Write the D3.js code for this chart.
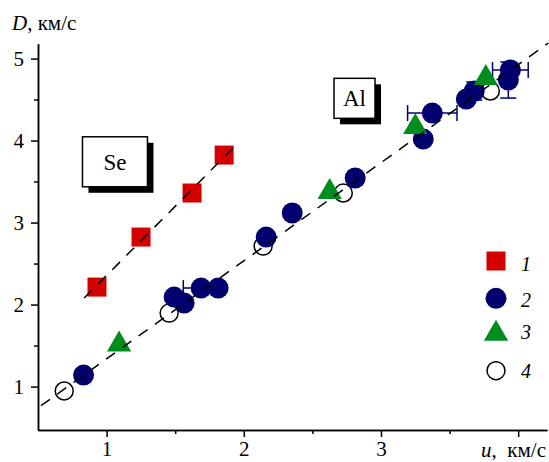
<!DOCTYPE html>
<html>
<head>
<meta charset="utf-8">
<script src="https://cdn.jsdelivr.net/npm/d3@7/dist/d3.min.js"></script>
<style>
  body { margin: 0; background: #fff; }
  svg { display: block; font-family: "Liberation Serif", "DejaVu Serif", serif; }
  .axis path, .axis line { stroke: #000; stroke-width: 1.5; }
</style>
</head>
<body>
<svg width="549" height="462"></svg>
<script>
// series 1 - Se (red squares): [u, D]
var seData = [[0.930, 2.213], [1.251, 2.823], [1.623, 3.360], [1.857, 3.823]];
// series 2 - Al (navy circles): [u, D, errU, errD]
var alCircles = [
    [0.832, 1.140, 0, 0], [1.492, 2.091, 0, 0], [1.565, 2.018, 0, 0],
    [1.689, 2.201, 0.13, 0], [1.813, 2.201, 0, 0], [2.163, 2.823, 0, 0],
    [2.353, 3.116, 0, 0], [2.812, 3.543, 0, 0], [3.308, 4.018, 0, 0],
    [3.374, 4.335, 0.18, 0], [3.622, 4.506, 0, 0], [3.680, 4.604, 0, 0.11],
    [3.928, 4.738, 0, 0.22], [3.943, 4.860, 0.13, 0]
];
// series 3 (green triangles)
var alTriangles = [[1.091, 1.512], [2.626, 3.372], [3.250, 4.165], [3.764, 4.762]];
// series 4 (open circles)
var alOpen = [[0.691, 0.946], [1.456, 1.896], [2.141, 2.713], [2.725, 3.360], [3.797, 4.604]];
// dashed fit lines, end points
var seFit = [[0.836, 2.079], [1.922, 3.909]];
var alFit = [[0.522, 0.766], [4.22, 5.189]];

var xMajor = [1, 2, 3, 4];
var xMinor = [1.5, 2.5, 3.5];
var yMajor = [1, 2, 3, 4, 5];
var yMinor = [1.5, 2.5, 3.5, 4.5];
var legendLabels = ['1', '2', '3', '4'];
// material labels: [text, u, D, box w, box h]
var boxLabels = [['Se', 1.061, 3.741, 65, 50], ['Al', 2.807, 4.515, 41, 40]];

var svg = d3.select('svg');
var xScale = d3.scaleLinear().domain([0.5, 4.21]).range([38, 547]);
var yScale = d3.scaleLinear().domain([0.47, 5.18]).range([430, 43.8]);

var red = '#d40000', navy = '#00006e', green = '#008c1e';
var serif = '"Liberation Serif", "DejaVu Serif", serif';

function styleTicks(g) {
    g.selectAll('text').style('font-family', serif).style('font-size', '21px').attr('fill', '#000');
}

// axes
svg.append('g').attr('class', 'axis')
    .attr('transform', 'translate(0,' + yScale.range()[0] + ')')
    .call(d3.axisBottom(xScale).tickValues(xMajor).tickSize(7).tickSizeOuter(0).tickPadding(4)
        .tickFormat(function(d) { return d === 4 ? '' : d; }))
    .call(styleTicks);
svg.append('g').attr('class', 'axis')
    .attr('transform', 'translate(0,' + yScale.range()[0] + ')')
    .call(d3.axisBottom(xScale).tickValues(xMinor).tickSize(4).tickSizeOuter(0).tickFormat(''));
svg.append('g').attr('class', 'axis')
    .attr('transform', 'translate(' + xScale.range()[0] + ',0)')
    .call(d3.axisLeft(yScale).tickValues(yMajor).tickSize(7).tickSizeOuter(0).tickPadding(7)
        .tickFormat(d3.format('d')))
    .call(styleTicks);
svg.append('g').attr('class', 'axis')
    .attr('transform', 'translate(' + xScale.range()[0] + ',0)')
    .call(d3.axisLeft(yScale).tickValues(yMinor).tickSize(4).tickSizeOuter(0).tickFormat(''));

// axis titles
var yt = svg.append('text').attr('x', 12).attr('y', 30).style('font-size', '21px');
yt.append('tspan').style('font-style', 'italic').text('D');
yt.append('tspan').text(', км/с');
var xt = svg.append('text').attr('x', 546).attr('y', 457).attr('text-anchor', 'end').style('font-size', '21px');
xt.append('tspan').style('font-style', 'italic').text('u');
xt.append('tspan').text(',\u00a0 км/с');

// material boxes with shadow
boxLabels.forEach(function(b) {
    var cx = xScale(b[1]), cy = yScale(b[2]), w = b[3], h = b[4];
    svg.append('rect').attr('x', cx - w / 2 + 6).attr('y', cy - h / 2 + 6)
        .attr('width', w).attr('height', h).attr('fill', '#000');
    svg.append('rect').attr('x', cx - w / 2).attr('y', cy - h / 2)
        .attr('width', w).attr('height', h).attr('fill', '#fff')
        .attr('stroke', '#000').attr('stroke-width', 1.5);
    svg.append('text').attr('x', cx).attr('y', cy + 8).attr('text-anchor', 'middle')
        .style('font-size', '23px').text(b[0]);
});

// open circles
svg.selectAll('.open').data(alOpen).enter().append('circle')
    .attr('class', 'open')
    .attr('cx', function(d) { return xScale(d[0]); })
    .attr('cy', function(d) { return yScale(d[1]); })
    .attr('r', 9).attr('fill', 'none').attr('stroke', '#000').attr('stroke-width', 1.5);

// error bars
var errG = svg.append('g').attr('stroke', navy).attr('stroke-width', 1.5);
alCircles.forEach(function(d) {
    var x = xScale(d[0]), y = yScale(d[1]);
    if (d[2] > 0) {
        var x0 = xScale(d[0] - d[2]), x1 = xScale(d[0] + d[2]);
        errG.append('line').attr('x1', x0).attr('x2', x1).attr('y1', y).attr('y2', y);
        errG.append('line').attr('x1', x0).attr('x2', x0).attr('y1', y - 8).attr('y2', y + 8);
        errG.append('line').attr('x1', x1).attr('x2', x1).attr('y1', y - 8).attr('y2', y + 8);
    }
    if (d[3] > 0) {
        var y0 = yScale(d[1] - d[3]), y1 = yScale(d[1] + d[3]);
        errG.append('line').attr('x1', x).attr('x2', x).attr('y1', y0).attr('y2', y1);
        errG.append('line').attr('x1', x - 8).attr('x2', x + 8).attr('y1', y0).attr('y2', y0);
        errG.append('line').attr('x1', x - 8).attr('x2', x + 8).attr('y1', y1).attr('y2', y1);
    }
});

// navy circles
svg.selectAll('.dot').data(alCircles).enter().append('circle')
    .attr('class', 'dot')
    .attr('cx', function(d) { return xScale(d[0]); })
    .attr('cy', function(d) { return yScale(d[1]); })
    .attr('r', 10.5).attr('fill', navy);

// red squares
svg.selectAll('.sq').data(seData).enter().append('rect')
    .attr('class', 'sq')
    .attr('x', function(d) { return xScale(d[0]) - 9.5; })
    .attr('y', function(d) { return yScale(d[1]) - 9.5; })
    .attr('width', 19).attr('height', 19).attr('fill', red);

// triangles
var tri = d3.symbol().type(d3.symbolTriangle).size(255);
svg.selectAll('.tri').data(alTriangles).enter().append('path')
    .attr('class', 'tri')
    .attr('d', tri)
    .attr('transform', function(d) { return 'translate(' + xScale(d[0]) + ',' + yScale(d[1]) + ')'; })
    .attr('fill', green);

// dashed fits
var line = d3.line().x(function(d) { return xScale(d[0]); }).y(function(d) { return yScale(d[1]); });
[seFit, alFit].forEach(function(f) {
    svg.append('path').attr('d', line(f)).attr('fill', 'none')
        .attr('stroke', '#000').attr('stroke-width', 1.5).attr('stroke-dasharray', '11,9');
});

// legend
var lg = svg.append('g').attr('transform', 'translate(496,0)');
lg.append('rect').attr('x', -9.5).attr('y', 251.5).attr('width', 19).attr('height', 19).attr('fill', red);
lg.append('circle').attr('cy', 298.3).attr('r', 10.5).attr('fill', navy);
lg.append('path').attr('d', tri).attr('transform', 'translate(0,333.7)').attr('fill', green);
lg.append('circle').attr('cy', 370.7).attr('r', 9).attr('fill', 'none').attr('stroke', '#000').attr('stroke-width', 1.5);
lg.selectAll('.lt').data(legendLabels).enter().append('text')
    .attr('class', 'lt')
    .attr('x', 25)
    .attr('y', function(d, i) { return [270.5, 306.5, 338.5, 378][i]; })
    .style('font-size', '20px').style('font-style', 'italic')
    .text(function(d) { return d; });
</script>
</body>
</html>
